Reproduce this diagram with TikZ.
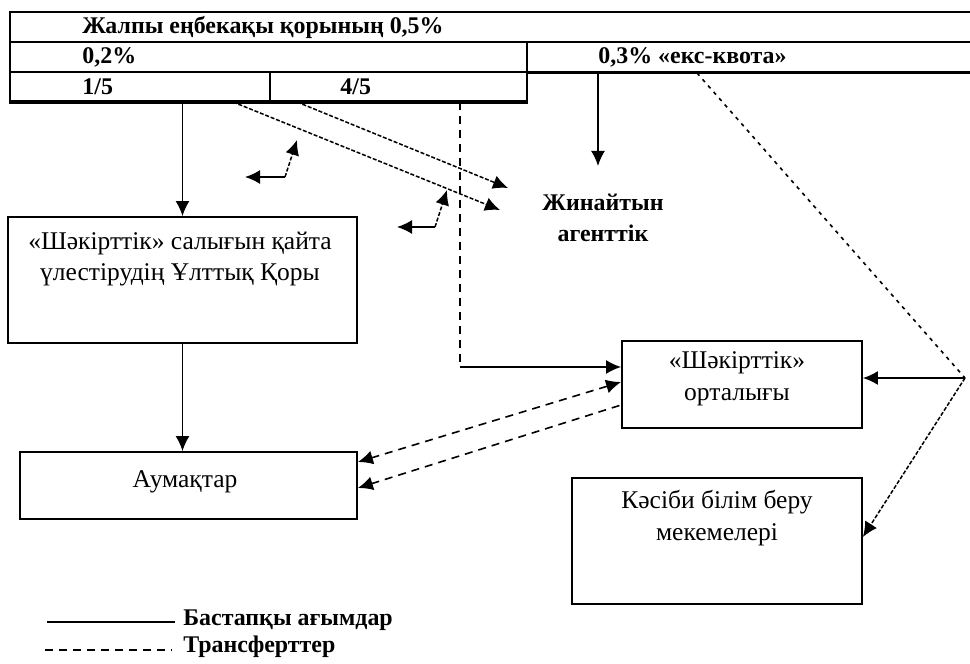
\documentclass[tikz,border=0pt]{standalone}
\usepackage{fontspec}
\setmainfont{Liberation Serif}
\usetikzlibrary{arrows.meta,calc}
\begin{document}
\begin{tikzpicture}[x=0.5bp,y=-0.5bp,
  cell/.style={draw, line width=1bp, inner sep=0, anchor=center},
  box/.style={draw, line width=0.9bp, inner sep=0},
  btxt/.style={font=\fontsize{12.8}{16}\selectfont, align=center, inner sep=0},
  bold/.style={font=\fontsize{12}{15.5}\selectfont\bfseries, inner sep=0},
  ah/.tip={Latex[length=7.5bp,width=7bp]},
  tip/.style={-ah},
  flow/.style={line width=0.85bp},
  trans/.style={line width=0.8bp, dash pattern=on 4bp off 3bp},
  fine/.style={line width=0.75bp, dash pattern=on 2bp off 0.9bp},
  dots/.style={line width=0.8bp, dash pattern=on 1.8bp off 2.4bp},
]
\useasboundingbox (0,0) rectangle (970,664);

% table
\node[cell, minimum width=485bp, minimum height=15bp] (r1) at (495,27) {};
\node[cell, minimum width=258.5bp, minimum height=15bp] (c02) at (268.5,57) {};
\node[cell, minimum width=226.5bp, minimum height=15bp] (c03) at (753.5,57) {};
\node[cell, minimum width=130bp, minimum height=14.5bp] (c15) at (140,86.5) {};
\node[cell, minimum width=128.5bp, minimum height=14.5bp] (c45) at (398.5,86.5) {};
\draw[line width=1.7bp] (c15.south west) -- (c45.south east);
\draw[line width=1.5bp] (c03.south west) -- (c03.south east);

\node[bold, anchor=west] (t05) at (82,27) {Жалпы еңбекақы қорының 0,5\%};
\node[bold, anchor=west] (t02) at (82,57) {0,2\%};
\node[bold, anchor=west] (t03) at (598,57) {0,3\% «екс-квота»};
\node[bold, anchor=west] (t15) at (82,87) {1/5};
\node[bold, anchor=west] (t45) at (340,87) {4/5};

% boxes
\node[box, minimum width=174.5bp, minimum height=63bp] (fund) at (182.5,280) {};
\node[btxt] (fundt) at (180,259) {«Шәкірттік» салығын қайта\\үлестірудің Ұлттық Қоры};
\node[box, minimum width=168.5bp, minimum height=33.5bp] (aum) at (188.5,485.5) {};
\node[btxt] (aumt) at (185,482) {Аумақтар};
\node[box, minimum width=120bp, minimum height=43.5bp] (ctr) at (742,384.5) {};
\node[btxt] (ctrt) at (737,379) {«Шәкірттік»\\орталығы};
\node[box, minimum width=145bp, minimum height=63bp] (kas) at (717,541) {};
\node[btxt] (kast) at (717,518) {Кәсіби білім беру\\мекемелері};
\node[bold, align=center] (agent) at (603,218) {Жинайтын\\агенттік};

% connectors
\draw[flow,tip] (c15.south -| fund.north) -- (fund.north);
\draw[flow,tip] (fund.south) -- (fund.south |- aum.north);

\draw[fine,tip] ([xshift=46.5bp]c15.south) -- ($(agent.center)+(-103,-8)$);
\draw[fine,tip] ([xshift=-50.75bp]c45.south) -- ($(agent.center)+(-95,-30)$);

\draw[flow,tip] (285,177) -- (245,177);
\draw[fine,tip] (285,177) -- (297,140);
\draw[flow,tip] (435,227) -- (397,227);
\draw[fine,tip] (435,227) -- (447,190);

\coordinate (v1) at ([xshift=30.75bp]c45.south);
\coordinate (v2) at ([yshift=8.75bp]ctr.west);
\draw[trans] (v1) -- (v1 |- v2);
\draw[flow,tip] (v1 |- v2) -- (v2);

\coordinate (a1) at ([xshift=-77.75bp]c03.south);
\draw[flow,tip] (a1) -- ($(a1)+(0,93)$);

\coordinate (p) at (965,378);
\draw[dots] ([xshift=-28.25bp]c03.south) -- (p);
\draw[flow,tip] (p) -- (p -| ctr.east);
\draw[fine,tip] (p) -- ([yshift=2bp]kas.east);

\draw[trans,ah-ah] ([yshift=11.75bp]aum.east) -- ([yshift=1.25bp]ctr.west);
\draw[trans,ah-] ([yshift=-1.25bp]aum.east) -- ([yshift=-10.25bp]ctr.west);

% legend
\node[bold, anchor=west] (lg1) at (183,620) {Бастапқы ағымдар};
\node[bold, anchor=west] (lg2) at (183,647) {Трансферттер};
\draw[flow] ($(lg1.west)+(-136,2)$) -- ($(lg1.west)+(-8,2)$);
\draw[trans] ($(lg2.west)+(-138,3)$) -- ($(lg2.west)+(-11,3)$);
\end{tikzpicture}
\end{document}
